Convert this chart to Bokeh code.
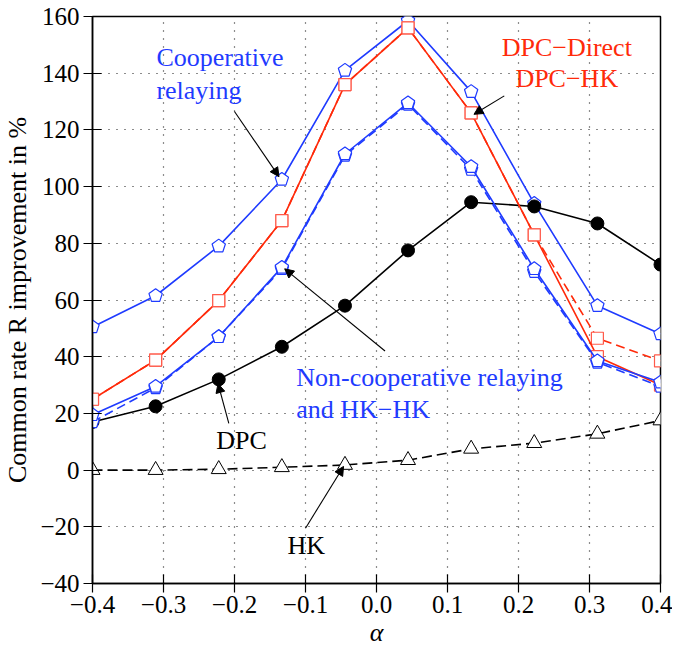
import math
from bokeh.plotting import figure
from bokeh.models import Range1d, FixedTicker, Label, Arrow, NormalHead, CustomJSTickFormatter
from bokeh.embed import file_html
from bokeh.resources import INLINE

# ---- data ----
alpha = [-0.4, -0.3111, -0.2222, -0.1333, -0.0444, 0.0444, 0.1333, 0.2222, 0.3111, 0.4]
coop = [50.5, 61.5, 79.0, 102.5, 141.0, 158.5, 133.5, 94.0, 58.0, 48.0]
dpc_direct = [25.0, 38.8, 59.8, 88.0, 136.0, 156.0, 126.0, 83.0, 40.0, 30.0]
dpc_hk = [25.0, 38.8, 59.8, 88.0, 136.0, 156.0, 126.0, 83.0, 46.5, 38.5]
noncoop = [19.5, 29.5, 47.0, 71.5, 111.5, 129.5, 107.0, 71.0, 38.5, 31.0]
hk_hk = [17.0, 29.0, 47.0, 71.0, 111.0, 129.0, 106.0, 70.0, 38.0, 29.5]
dpc = [17.0, 22.5, 32.0, 43.5, 58.0, 77.5, 94.5, 93.0, 87.0, 72.5]
hk = [0.0, 0.0, 0.3, 1.0, 1.8, 3.5, 7.5, 9.5, 12.8, 17.5]

x_ticks = [-0.4, -0.3, -0.2, -0.1, 0.0, 0.1, 0.2, 0.3, 0.4]
y_ticks = [-40, -20, 0, 20, 40, 60, 80, 100, 120, 140, 160]

BLUE = "#1f3bff"
RED = "#ff2a0a"
RED_MK = "#ff5a4a"
FONT = "Liberation Serif"

FW, FH = 568, 567
X0, X1, Y0, Y1 = -0.4, 0.4, -40, 160

p = figure(frame_width=FW, frame_height=FH, x_range=Range1d(X0, X1), y_range=Range1d(Y0, Y1),
           output_backend="svg", toolbar_location=None,
           min_border_left=88, min_border_top=16, min_border_right=12, min_border_bottom=46,
           background_fill_color="white", border_fill_color="white")

p.outline_line_color = "black"
p.outline_line_width = 1.5

for ax, ticks, fmt in ((p.xaxis[0], x_ticks, 1), (p.yaxis[0], y_ticks, 0)):
    ax.ticker = FixedTicker(ticks=ticks)
    ax.formatter = CustomJSTickFormatter(
        code="return (tick < -1e-9 ? '\u2212' : '') + Math.abs(tick).toFixed(%d);" % fmt)
    ax.major_tick_in = 9
    ax.major_tick_out = 9
    ax.minor_tick_line_color = None
    ax.axis_line_width = 1.5
    ax.axis_line_color = "black"
    ax.major_tick_line_color = "black"
    ax.major_tick_line_width = 1.2
    ax.major_label_text_font = FONT
    ax.major_label_text_font_size = "25px"
    ax.major_label_text_color = "black"
    ax.axis_label_text_font = FONT
    ax.axis_label_text_font_size = "26px"
    ax.axis_label_text_color = "black"

p.xaxis.major_label_standoff = 3
p.yaxis.major_label_standoff = 4
p.xaxis.axis_label = "α"
p.xaxis.axis_label_text_font_style = "italic"
p.xaxis.axis_label_standoff = 2
p.yaxis.axis_label = "Common rate R improvement in %"
p.yaxis.axis_label_text_font_style = "normal"
p.yaxis.axis_label_standoff = 5

p.xgrid.ticker = FixedTicker(ticks=x_ticks)
p.ygrid.ticker = FixedTicker(ticks=y_ticks)
for g in (p.xgrid[0], p.ygrid[0]):
    g.grid_line_color = "black"
    g.grid_line_dash = "1 7"
    g.grid_line_width = 1.2
    g.grid_line_alpha = 0.9

# pentagon marker helper (size in screen px converted to data units)
sx = FW / (X1 - X0)
sy = FH / (Y1 - Y0)


def pentagons(xs, ys, r=7.0):
    px, py = [], []
    for x, y in zip(xs, ys):
        vx, vy = [], []
        for k in range(5):
            a = math.radians(90 + 72 * k)
            vx.append(x + r * math.cos(a) / sx)
            vy.append(y + r * math.sin(a) / sy)
        px.append(vx)
        py.append(vy)
    return px, py


LW = 1.6
# Cooperative relaying
p.line(alpha, coop, line_color=BLUE, line_width=LW)
cx, cy = pentagons(alpha, coop)
p.patches(cx, cy, fill_color="white", line_color=BLUE, line_width=1.2)

# DPC
p.line(alpha, dpc, line_color="black", line_width=LW)
p.scatter(alpha, dpc, marker="circle", size=13, fill_color="black", line_color="black")

# DPC-HK (dashed) and DPC-Direct
p.line(alpha, dpc_hk, line_color=RED, line_width=LW, line_dash="9 5")
p.scatter(alpha, dpc_hk, marker="square", size=12, fill_color="white", line_color=RED_MK, line_width=1.2)
p.line(alpha, dpc_direct, line_color=RED, line_width=LW)
p.scatter(alpha, dpc_direct, marker="square", size=12, fill_color="white", line_color=RED_MK, line_width=1.2)

# Non-cooperative relaying and HK-HK
p.line(alpha, hk_hk, line_color=BLUE, line_width=LW, line_dash="9 5")
hx, hy = pentagons(alpha, hk_hk)
p.patches(hx, hy, fill_color="white", line_color=BLUE, line_width=1.2)
p.line(alpha, noncoop, line_color=BLUE, line_width=LW)
nx, ny = pentagons(alpha, noncoop)
p.patches(nx, ny, fill_color="white", line_color=BLUE, line_width=1.2)

# HK
p.line(alpha, hk, line_color="black", line_width=LW, line_dash="10 5")
p.scatter(alpha, hk, marker="triangle", size=15, fill_color="white", line_color="black", line_width=1.0)


# annotations
def label(x, y, text, color, align="left"):
    p.add_layout(Label(x=x, y=y, text=text, text_font=FONT, text_font_size="26px",
                       text_color=color, text_align=align, text_baseline="middle"))


def arrow(x0, y0, x1, y1):
    p.add_layout(Arrow(end=NormalHead(size=9, fill_color="black", line_color="black", line_width=1),
                       x_start=x0, y_start=y0, x_end=x1, y_end=y1,
                       line_color="black", line_width=1.1))


label(-0.31, 145.5, "Cooperative", BLUE)
label(-0.31, 134.0, "relaying", BLUE)
arrow(-0.20, 126.5, alpha[3] - 0.004, coop[3] + 1.0)

label(0.268, 149.0, "DPC\u2212Direct", RED, "center")
label(0.268, 138.0, "DPC\u2212HK", RED, "center")
arrow(0.18, 132.0, alpha[6] + 0.004, dpc_direct[6] - 0.5)

label(-0.113, 32.5, "Non-cooperative relaying", BLUE)
label(-0.113, 21.5, "and HK\u2212HK", BLUE)
arrow(0.012, 42.0, alpha[3] + 0.004, noncoop[3] - 0.5)

label(-0.19, 10.5, "DPC", "black", "center")
arrow(-0.208, 16.5, alpha[2] - 0.001, dpc[2] - 1.5)

label(-0.099, -26.5, "HK", "black", "center")
arrow(-0.100, -20.5, alpha[4] - 0.002, hk[4] - 0.5)

open("out.html", "w").write(file_html(p, INLINE))
